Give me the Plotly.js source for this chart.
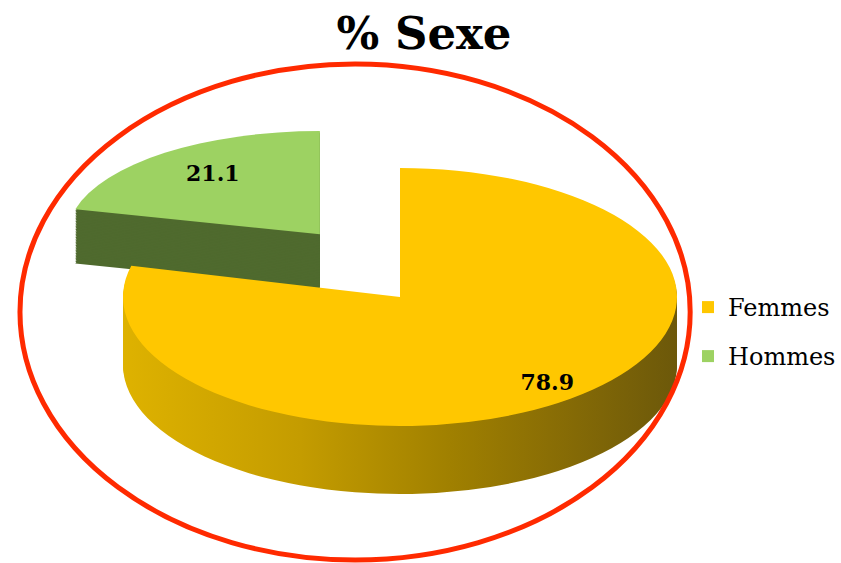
<!DOCTYPE html>
<html><head><meta charset="utf-8">
<script src="https://cdn.plot.ly/plotly-3.0.1.min.js"></script>
<style>html,body{margin:0;padding:0;background:#fff;overflow:hidden}</style>
</head><body>
<div id="chart" style="width:841px;height:563px"></div>
<script>
// ---- data ----
const labels = ['Femmes', 'Hommes'];
const values = [78.9, 21.1];
const titleText = '% Sexe';

// ---- style ----
const topColors = ['#FFC700', '#9DD262'];
const sideColors = ['#B89000', '#4F6A2E'];
const PULL = [0, 0.47];
const DEPTH = 68, STEP = 2;
const CX = 400, CY = 297, RX = 277, RY = 129;
// per-slice perspective tweak (screen px / factors): [scaleX, scaleY, shiftY, depthFactor]
const SLICE_TWEAK = [null, [0.91, 0.80, -15, 0.8]];
const LABEL_NUDGE = [[62, 36], [-11, -7]];
const dom = {x: [135/841, 665/841], y: [1-560/563, 1-30/563]};
const FONT = 'DejaVu Serif';

const traces = [];
const offsets = [];
for (let d = DEPTH; d > 0; d -= STEP) {
  traces.push({type:'pie', labels: labels, values: values, sort:false, direction:'clockwise', rotation:0,
    pull: PULL, domain: dom, marker:{colors: sideColors, line:{width:0}},
    textinfo:'none', hoverinfo:'skip', showlegend:false});
  offsets.push(d);
}
traces.push({type:'pie', labels: labels, values: values, sort:false, direction:'clockwise', rotation:0,
  pull: PULL, domain: dom, marker:{colors: topColors, line:{width:0}},
  texttemplate:'%{value:.1f}', textposition:'inside', insidetextorientation:'horizontal',
  textfont:{family: FONT, size:22, color:'#000', weight:'bold'}, showlegend:true});
offsets.push(0);

const layout = {
  width:841, height:563, margin:{l:0,r:0,t:0,b:0}, paper_bgcolor:'#fff',
  title:{text: titleText, font:{family: FONT, size:45, color:'#000', weight:'bold'},
    x:424/841, xanchor:'center', y:1-33/563, yanchor:'middle', yref:'container'},
  showlegend:true,
  legend:{x:689/841, xanchor:'left', y:1-285/563, yanchor:'top',
    font:{family: FONT, size:24, color:'#000'}, bgcolor:'rgba(0,0,0,0)'},
  shapes:[{type:'circle', xref:'paper', yref:'paper', x0:20/841, x1:691/841, y0:1-560/563, y1:1-64/563,
    line:{color:'#FF2A00', width:5}}]
};

const gd = document.getElementById('chart');
Plotly.newPlot(gd, traces, layout, {displayModeBar:false, staticPlot:true}).then(function(){
  const ns = 'http://www.w3.org/2000/svg';
  const svg = gd.querySelector('svg.main-svg');
  const defs = svg.querySelector('defs');
  const lg = document.createElementNS(ns, 'linearGradient');
  lg.setAttribute('id', 'ysidegrad');
  lg.setAttribute('x1', '0'); lg.setAttribute('y1', '0'); lg.setAttribute('x2', '1'); lg.setAttribute('y2', '0');
  [[0,'#DEB200'],[0.32,'#C49C00'],[0.59,'#A08000'],[0.77,'#8A6E05'],[1,'#6C580A']].forEach(function(s){
    const st = document.createElementNS(ns, 'stop');
    st.setAttribute('offset', s[0]); st.setAttribute('stop-color', s[1]);
    lg.appendChild(st);
  });
  defs.appendChild(lg);

  const groups = gd.querySelectorAll('.pielayer .trace');
  groups.forEach(function(g, i){
    const cd = gd.calcdata[i];
    const cd0 = cd[0];
    const sx = RX / cd0.r, sy = RY / cd0.r;
    const d = offsets[i];
    g.setAttribute('transform', 'translate(' + CX + ',' + (CY + d) + ') scale(' + sx + ',' + sy + ') translate(' + (-cd0.cx) + ',' + (-cd0.cy) + ')');
    const slices = g.querySelectorAll('g.slice');
    slices.forEach(function(sl, k){
      let gsx = 1, gsy = 1;
      const tw = SLICE_TWEAK[k];
      if (tw) {
        const pt = cd[k];
        const pull = PULL[k] || 0;
        const ax = cd0.cx + pull * pt.pxmid[0];
        const ay = cd0.cy + pull * pt.pxmid[1];
        gsx = tw[0]; gsy = tw[1];
        const shY = (tw[2] - (1 - tw[3]) * d) / sy;
        sl.setAttribute('transform', 'translate(' + ax + ',' + (ay + shY) + ') scale(' + gsx + ',' + gsy + ') translate(' + (-ax) + ',' + (-ay) + ')');
      }
      const t = sl.querySelector('.slicetext text');
      if (t) {
        const tr = t.getAttribute('transform') || '';
        const nz = LABEL_NUDGE[k] || [0, 0];
        const fx = sx * gsx, fy = sy * gsy;
        t.setAttribute('transform', 'translate(' + (nz[0] / fx) + ',' + (nz[1] / fy) + ') ' + tr + ' scale(' + (1 / fx) + ',' + (1 / fy) + ')');
      }
      if (d > 0 && k === 0) {
        const p = sl.querySelector('path.surface');
        if (p) p.style.fill = 'url(#ysidegrad)';
      }
    });
  });

  const sb = gd.querySelector('.legend .scrollbox');
  if (sb) sb.removeAttribute('clip-path');
  const items = gd.querySelectorAll('.legend .traces');
  if (items.length > 1) {
    const m = /translate\(([-\d.]+),\s*([-\d.]+)\)/.exec(items[0].getAttribute('transform'));
    if (m) {
      const y0 = parseFloat(m[2]);
      items[1].setAttribute('transform', 'translate(' + m[1] + ',' + (y0 + 49) + ')');
    }
  }
});
</script>
</body></html>
